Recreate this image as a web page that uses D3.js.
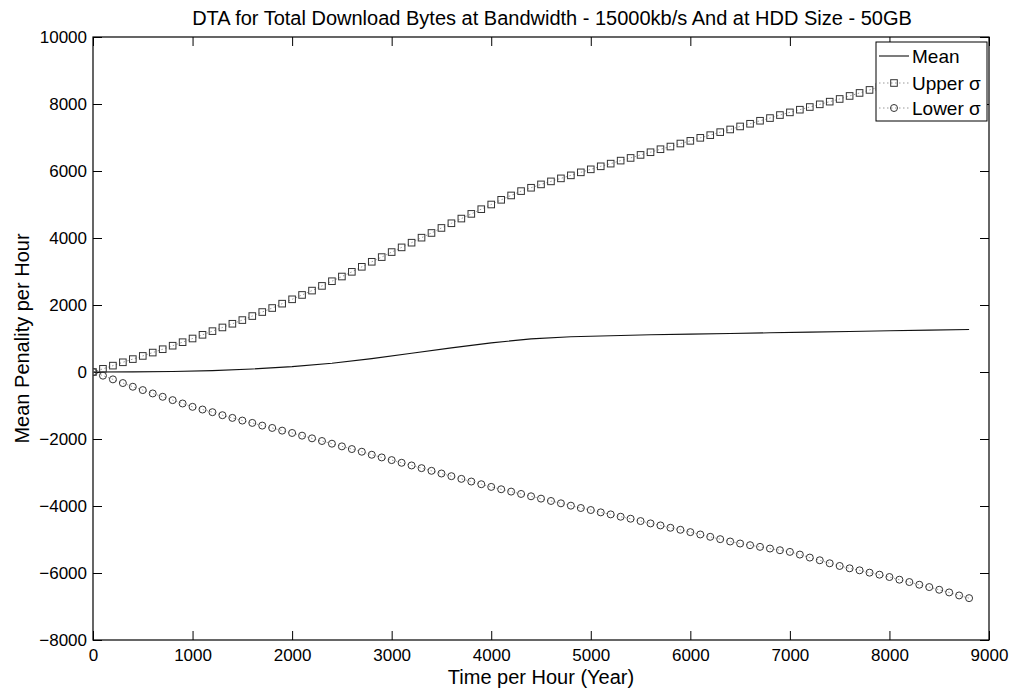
<!DOCTYPE html>
<html><head><meta charset="utf-8">
<script src="https://cdn.jsdelivr.net/npm/d3@7"></script>
<style>body{margin:0;background:#fff}svg{display:block}text{font-family:"Liberation Sans",Arial,sans-serif;fill:#000}</style>
</head><body>
<script>
const hours = d3.range(0, 8801, 100);
const upper = [0,95,190,290,385,480,580,680,785,890,1000,
1110,1220,1330,1440,1550,1670,1790,1910,2040,2170,
2300,2430,2570,2710,2850,2990,3140,3290,3430,3580,
3720,3860,4010,4150,4300,4440,4580,4720,4860,5000,
5140,5270,5400,5500,5600,5690,5780,5870,5960,6050,
6140,6220,6310,6390,6480,6560,6650,6730,6820,6900,
6990,7070,7160,7240,7330,7410,7500,7580,7670,7750,
7830,7910,7990,8070,8150,8240,8330,8420,8510,8600,
8680,8760,8840,8920,9000,9080,9160,9240];
const lower = [0,-110,-220,-330,-440,-540,-640,-740,-840,-940,-1040,
-1120,-1200,-1290,-1370,-1450,-1520,-1600,-1670,-1750,-1820,
-1900,-1980,-2060,-2140,-2220,-2300,-2380,-2470,-2550,-2630,
-2710,-2790,-2870,-2950,-3030,-3110,-3190,-3270,-3350,-3430,
-3500,-3570,-3640,-3710,-3780,-3850,-3920,-3990,-4060,-4120,
-4190,-4250,-4320,-4380,-4450,-4520,-4580,-4650,-4710,-4780,
-4850,-4920,-4990,-5060,-5120,-5170,-5220,-5270,-5320,-5370,
-5450,-5540,-5620,-5710,-5790,-5860,-5920,-5990,-6050,-6120,
-6200,-6270,-6350,-6420,-6500,-6580,-6670,-6750];
const meanHours = [0,400,800,1200,1600,2000,2400,2800,3200,3600,4000,4400,4800,5200,5600,6000,6400,6800,7200,7600,8000,8400,8800];
const meanVals  = [0,5,15,40,90,160,260,400,560,720,870,990,1050,1080,1110,1130,1150,1170,1190,1210,1230,1250,1270];
const xTicks = [0,1000,2000,3000,4000,5000,6000,7000,8000,9000];
const yTicks = [-8000,-6000,-4000,-2000,0,2000,4000,6000,8000,10000];
const title = "DTA for Total Download Bytes at Bandwidth - 15000kb/s And at HDD Size - 50GB";
const xLabel = "Time per Hour (Year)";
const yLabel = "Mean Penality per Hour";
const legendLabels = ["Mean","Upper σ","Lower σ"];

const W=1021,H=692, L=93,R=989,T=37,B=640;
const svg=d3.select("body").append("svg").attr("width",W).attr("height",H);
const x=d3.scaleLinear().domain([0,9000]).range([L,R]);
const y=d3.scaleLinear().domain([-8000,10000]).range([B,T]);

svg.append("defs").append("clipPath").attr("id","c").append("rect").attr("x",L).attr("y",T).attr("width",R-L).attr("height",B-T);

const tl=9;
svg.append("g").attr("transform",`translate(0,${B})`).call(d3.axisBottom(x).tickValues(xTicks).tickSizeInner(-tl).tickSizeOuter(0).tickPadding(8).tickFormat(d3.format("d")))
  .call(g=>{g.select(".domain").remove();g.selectAll("text").attr("font-size",17).attr("dy","0.75em");});
svg.append("g").attr("transform",`translate(0,${T})`).call(d3.axisTop(x).tickValues(xTicks).tickSizeInner(-tl).tickSizeOuter(0).tickFormat(""))
  .call(g=>g.select(".domain").remove());
svg.append("g").attr("transform",`translate(${L},0)`).call(d3.axisLeft(y).tickValues(yTicks).tickSizeInner(-tl).tickSizeOuter(0).tickPadding(6).tickFormat(d=>d3.format("d")(d).replace("-","\u2212")))
  .call(g=>{g.select(".domain").remove();g.selectAll("text").attr("font-size",17);});
svg.append("g").attr("transform",`translate(${R},0)`).call(d3.axisRight(y).tickValues(yTicks).tickSizeInner(-tl).tickSizeOuter(0).tickFormat(""))
  .call(g=>g.select(".domain").remove());
svg.selectAll(".tick line").attr("stroke","#000");
svg.append("rect").attr("x",L).attr("y",T).attr("width",R-L).attr("height",B-T).attr("fill","none").attr("stroke","#000").attr("stroke-width",1.2);

const plot=svg.append("g").attr("clip-path","url(#c)");
const line=d3.line().x(d=>x(d[0])).y(d=>y(d[1]));
const up=hours.map((h,i)=>[h,upper[i]]), lo=hours.map((h,i)=>[h,lower[i]]), mn=meanHours.map((h,i)=>[h,meanVals[i]]);
plot.append("path").attr("d",line(up)).attr("fill","none").attr("stroke","#999").attr("stroke-width",1).attr("stroke-dasharray","1.5,2.5");
plot.append("path").attr("d",line(lo)).attr("fill","none").attr("stroke","#999").attr("stroke-width",1).attr("stroke-dasharray","1.5,2.5");
plot.append("path").attr("d",line(mn)).attr("fill","none").attr("stroke","#111").attr("stroke-width",1.1);
plot.selectAll(".sq").data(up).join("rect").attr("x",d=>x(d[0])-3.3).attr("y",d=>y(d[1])-3.3).attr("width",6.6).attr("height",6.6).attr("fill","none").attr("stroke","#333").attr("stroke-width",1);
plot.selectAll(".ci").data(lo).join("circle").attr("cx",d=>x(d[0])).attr("cy",d=>y(d[1])).attr("r",3.5).attr("fill","none").attr("stroke","#333").attr("stroke-width",1);

svg.append("text").attr("x",(L+R)/2+11).attr("y",25).attr("text-anchor","middle").attr("font-size",20).text(title);
svg.append("text").attr("x",(L+R)/2).attr("y",684).attr("text-anchor","middle").attr("font-size",20).text(xLabel);
svg.append("text").attr("transform",`translate(29,${(T+B)/2}) rotate(-90)`).attr("text-anchor","middle").attr("font-size",20).text(yLabel);

const lg=svg.append("g");
lg.append("rect").attr("x",876).attr("y",42).attr("width",111).attr("height",79).attr("fill","#fff").attr("stroke","#000").attr("stroke-width",1);
const ly=[56,83,108];
legendLabels.forEach((t,i)=>{
  lg.append("text").attr("x",912).attr("y",ly[i]).attr("dy","0.35em").attr("font-size",19).text(t);
});
lg.append("line").attr("x1",879).attr("x2",909).attr("y1",ly[0]).attr("y2",ly[0]).attr("stroke","#111").attr("stroke-width",1.1);
[1,2].forEach(i=>lg.append("line").attr("x1",879).attr("x2",909).attr("y1",ly[i]).attr("y2",ly[i]).attr("stroke","#999").attr("stroke-dasharray","1.5,2.5"));
lg.append("rect").attr("x",890.7).attr("y",ly[1]-3.3).attr("width",6.6).attr("height",6.6).attr("fill","none").attr("stroke","#333");
lg.append("circle").attr("cx",894).attr("cy",ly[2]).attr("r",3.5).attr("fill","none").attr("stroke","#333");
</script>
</body></html>
